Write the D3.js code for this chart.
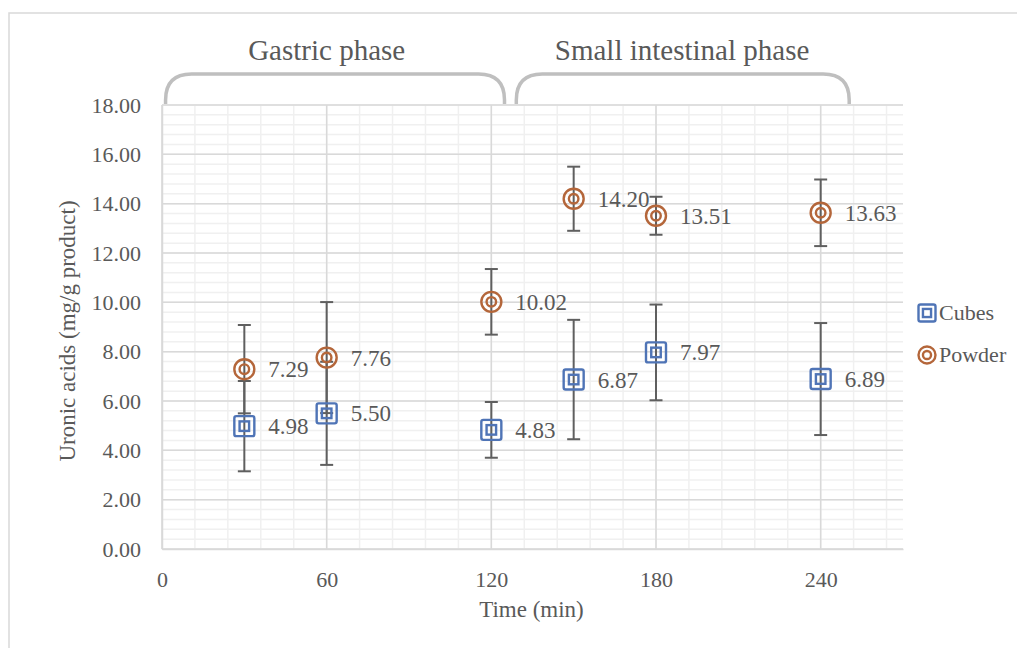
<!DOCTYPE html>
<html>
<head>
<meta charset="utf-8">
<script src="https://cdn.jsdelivr.net/npm/d3@7"></script>
<style>
  body { margin: 0; background: #fff; }
  svg text { font-family: "Liberation Serif", "Times New Roman", serif; fill: #595959; }
</style>
</head>
<body>
<div id="chart"></div>
<script>
// data
var times = [30, 60, 120, 150, 180, 240];
var cubes = [4.98, 5.50, 4.83, 6.87, 7.97, 6.89];
var cubesErr = [1.83, 2.09, 1.13, 2.42, 1.94, 2.27];
var powder = [7.29, 7.76, 10.02, 14.20, 13.51, 13.63];
var powderErr = [1.79, 2.25, 1.33, 1.30, 0.77, 1.35];
var xTicks = [0, 60, 120, 180, 240];
// label, bracket start, bracket end, label centre (minutes)
var phases = [["Gastric phase", 1.3, 124.8, 60], ["Small intestinal phase", 129.1, 250.4, 189.5]];

var width = 1017, height = 648,
    plotLeft = 162, plotRight = 903, plotTop = 105, plotBot = 549,
    blue = "#4f74b6", brown = "#b4663a", errColor = "#5f5f5f",
    serif = "'Liberation Serif', 'Times New Roman', serif";

var svg = d3.select("#chart").append("svg")
    .attr("width", width)
    .attr("height", height)
    .attr("font-family", serif);

// outer chart border
svg.append("rect")
    .attr("x", 9).attr("y", 13)
    .attr("width", 1100).attr("height", 700)
    .attr("fill", "none")
    .attr("stroke", "#d9d9d9")
    .attr("stroke-width", 1.5);

var x = d3.scaleLinear().domain([0, 270]).range([plotLeft, plotRight]);
var y = d3.scaleLinear().domain([0, 18]).range([plotBot, plotTop]);

// minor grid
svg.append("g").selectAll("line").data(d3.range(0, 270.1, 12))
    .enter().append("line")
    .attr("x1", d => x(d)).attr("x2", d => x(d))
    .attr("y1", plotTop).attr("y2", plotBot)
    .attr("stroke", "#f0f0f0").attr("stroke-width", 1.5);
svg.append("g").selectAll("line").data(d3.range(0, 18.01, 0.4))
    .enter().append("line")
    .attr("x1", plotLeft).attr("x2", plotRight)
    .attr("y1", d => y(d)).attr("y2", d => y(d))
    .attr("stroke", "#f0f0f0").attr("stroke-width", 1.5);

// major grid
svg.append("g").selectAll("line").data(xTicks)
    .enter().append("line")
    .attr("x1", d => x(d)).attr("x2", d => x(d))
    .attr("y1", plotTop).attr("y2", plotBot)
    .attr("stroke", "#d9d9d9").attr("stroke-width", 1.5);
svg.append("g").selectAll("line").data(d3.range(0, 18.01, 2))
    .enter().append("line")
    .attr("x1", plotLeft).attr("x2", plotRight)
    .attr("y1", d => y(d)).attr("y2", d => y(d))
    .attr("stroke", "#d9d9d9").attr("stroke-width", 1.5);

// axes
var yAxis = d3.axisLeft(y).tickValues(d3.range(0, 18.01, 2)).tickFormat(d3.format(".2f")).tickSize(0).tickPadding(21);
svg.append("g").attr("transform", `translate(${plotLeft},0)`).call(yAxis)
    .attr("font-family", serif)
    .call(g => g.select(".domain").attr("stroke", "#d9d9d9").attr("stroke-width", 1.5))
    .selectAll("text").style("font-size", "22px").attr("fill", "#595959");

var xAxis = d3.axisBottom(x).tickValues(xTicks).tickSize(0).tickPadding(22);
svg.append("g").attr("transform", `translate(0,${plotBot})`).call(xAxis)
    .attr("font-family", serif)
    .call(g => g.select(".domain").attr("stroke", "#d9d9d9").attr("stroke-width", 1.5))
    .selectAll("text").style("font-size", "22px").attr("fill", "#595959");

// axis titles
svg.append("text")
    .attr("x", (plotLeft + plotRight) / 2 - 1).attr("y", 617)
    .attr("text-anchor", "middle")
    .style("font-family", serif)
    .style("font-size", "23px")
    .text("Time (min)");
svg.append("text")
    .attr("transform", "translate(75,331) rotate(-90)")
    .attr("text-anchor", "middle")
    .style("font-family", serif)
    .style("font-size", "23px")
    .text("Uronic acids (mg/g product)");

// phase brackets
var r = 26;
svg.append("g").selectAll("path").data(phases)
    .enter().append("path")
    .attr("d", function(p) {
        var x0 = x(p[1]), x1 = x(p[2]), top = 74, bot = 104;
        return `M${x0},${bot} L${x0},${top + r} Q${x0},${top} ${x0 + r},${top} L${x1 - r},${top} Q${x1},${top} ${x1},${top + r} L${x1},${bot}`;
    })
    .attr("fill", "none")
    .attr("stroke", "#bfbfbf")
    .attr("stroke-width", 3.5);
svg.append("g").selectAll("text").data(phases)
    .enter().append("text")
    .attr("x", p => x(p[3]))
    .attr("y", 60)
    .attr("text-anchor", "middle")
    .style("font-family", serif)
    .style("font-size", "29px")
    .text(p => p[0]);

// error bars
function errorBars(vals, errs) {
    var g = svg.append("g").attr("stroke", errColor).attr("stroke-width", 2);
    times.forEach(function(t, i) {
        var cx = x(t), hi = y(vals[i] + errs[i]), lo = y(vals[i] - errs[i]);
        g.append("line").attr("x1", cx).attr("x2", cx).attr("y1", hi).attr("y2", lo);
        g.append("line").attr("x1", cx - 6.5).attr("x2", cx + 6.5).attr("y1", hi).attr("y2", hi);
        g.append("line").attr("x1", cx - 6.5).attr("x2", cx + 6.5).attr("y1", lo).attr("y2", lo);
    });
}
errorBars(cubes, cubesErr);
errorBars(powder, powderErr);

// markers
function squareMarker(g, s) {
    g.append("rect").attr("x", -s / 2).attr("y", -s / 2).attr("width", s).attr("height", s)
        .attr("rx", 2).attr("fill", "none").attr("stroke", blue).attr("stroke-width", 2.4);
    g.append("rect").attr("x", -s / 4.2).attr("y", -s / 4.2).attr("width", s / 2.1).attr("height", s / 2.1)
        .attr("fill", "none").attr("stroke", blue).attr("stroke-width", 2.4);
}
function circleMarker(g, s) {
    g.append("circle").attr("r", s / 2).attr("fill", "none").attr("stroke", brown).attr("stroke-width", 2.4);
    g.append("circle").attr("r", s / 4.2).attr("fill", "none").attr("stroke", brown).attr("stroke-width", 2.4);
}

svg.append("g").selectAll("g").data(cubes)
    .enter().append("g")
    .attr("transform", (d, i) => `translate(${x(times[i])},${y(d)})`)
    .each(function() { squareMarker(d3.select(this), 20); });
svg.append("g").selectAll("g").data(powder)
    .enter().append("g")
    .attr("transform", (d, i) => `translate(${x(times[i])},${y(d)})`)
    .each(function() { circleMarker(d3.select(this), 20); });

// data labels
[cubes, powder].forEach(function(series) {
    svg.append("g").selectAll("text").data(series)
        .enter().append("text")
        .attr("x", (d, i) => x(times[i]) + 24)
        .attr("y", d => y(d) + 8)
        .style("font-family", serif)
        .style("font-size", "23px")
        .text(d => d.toFixed(2));
});

// legend
var legend = svg.append("g").attr("transform", "translate(927,0)");
var lc = legend.append("g").attr("transform", "translate(0,313)");
squareMarker(lc, 17);
var lp = legend.append("g").attr("transform", "translate(0,355)");
circleMarker(lp, 17);
legend.append("text").attr("x", 12).attr("y", 320).style("font-family", serif).style("font-size", "22px").text("Cubes");
legend.append("text").attr("x", 12).attr("y", 362).style("font-family", serif).style("font-size", "22px").text("Powder");
</script>
</body>
</html>
